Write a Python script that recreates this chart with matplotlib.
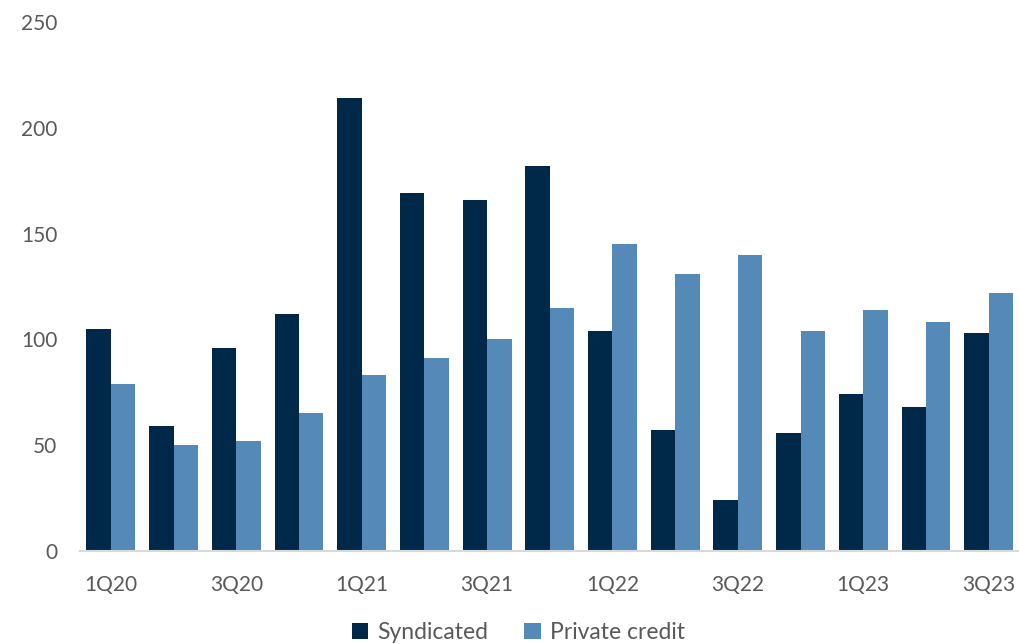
import matplotlib
matplotlib.use("Agg")
import matplotlib.pyplot as plt
import numpy as np

quarters = ["1Q20", "2Q20", "3Q20", "4Q20", "1Q21", "2Q21", "3Q21", "4Q21",
            "1Q22", "2Q22", "3Q22", "4Q22", "1Q23", "2Q23", "3Q23"]
syndicated = [105, 59, 96, 112, 214, 169, 166, 182, 104, 57, 24, 56, 74, 68, 103]
private_credit = [79, 50, 52, 65, 83, 91, 100, 115, 145, 131, 140, 104, 114, 108, 122]
yticks = [0, 50, 100, 150, 200, 250]

plt.rcParams['font.family'] = ['Lato', 'DejaVu Sans']

fig = plt.figure(figsize=(10.2, 6.44), dpi=100)
ax = fig.add_axes([0.078, 0.1444, 0.922, 0.8214])

x = np.arange(len(quarters))
w = 0.39
ax.bar(x - w / 2, syndicated, width=w, color="#002849", label="Syndicated")
ax.bar(x + w / 2, private_credit, width=w, color="#5589B8", label="Private credit")

ax.set_ylim(0, 250)
ax.set_xlim(-0.5, len(quarters) - 0.5)
ax.set_yticks(yticks)
ax.set_xticks(x[::2])
ax.set_xticklabels(quarters[::2])
ax.tick_params(axis='both', length=0, labelsize=15, labelcolor="#595959")
ax.tick_params(axis='y', pad=16)
ax.tick_params(axis='x', pad=17)
for s in ["top", "right", "left"]:
    ax.spines[s].set_visible(False)
ax.spines["bottom"].set_color("#D9D9D9")
ax.spines["bottom"].set_linewidth(1.5)

fig.legend(loc="lower center", bbox_to_anchor=(0.508, -0.03), ncol=2, frameon=False,
           fontsize=16.5, labelcolor="#595959", handlelength=0.7, handleheight=0.7,
           handletextpad=0.4, columnspacing=1.6)

fig.savefig("out.png", dpi=100)
